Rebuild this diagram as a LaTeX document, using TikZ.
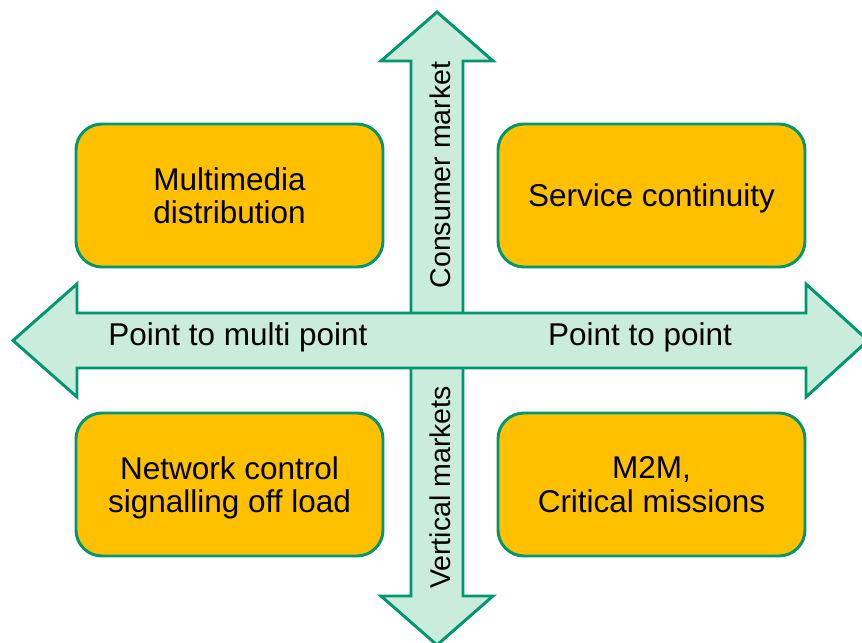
\documentclass[tikz,border=0pt]{standalone}
\usepackage{xcolor}
\usepackage{fontspec}
\setmainfont{Liberation Sans}
\setsansfont{Liberation Sans}
\usepackage{tikz}
\usetikzlibrary{calc}
\definecolor{boxorange}{RGB}{255,192,0}
\definecolor{edgegreen}{RGB}{0,150,112}
\definecolor{arrowmint}{RGB}{202,236,220}
\tikzset{quadrant/.style={draw=edgegreen,fill=boxorange,line width=2.1pt,rounded corners=0.65cm,minimum width=7.675cm,minimum height=3.575cm,align=center,text depth=0pt,font=\sffamily\fontsize{22.4}{23.5}\selectfont}}
\tikzset{bigarrow/.style={draw=edgegreen,fill=arrowmint,line width=2.1pt,line join=miter}}
\tikzset{axislabel/.style={anchor=base,inner sep=0pt,font=\sffamily\fontsize{22.4}{23.5}\selectfont}}

\begin{document}
\begin{tikzpicture}[font=\sffamily]
	\useasboundingbox (0,0) rectangle (21.55,16.075);
	% market axis
	\draw[bigarrow] (10.925,15.775)--(12.325,14.55)--(11.575,14.55)--(11.575,1.175)--(12.325,1.175)--(10.925,-0.05)--(9.525,1.175)--(10.275,1.175)--(10.275,14.55)--(9.525,14.55)--cycle;
	% point axis
	\draw[bigarrow] (0.325,7.5625)--(1.925,8.975)--(1.925,8.25)--(20.15,8.25)--(20.15,8.975)--(21.7,7.5625)--(20.15,6.15)--(20.15,6.875)--(1.925,6.875)--(1.925,6.15)--cycle;
	\node[quadrant] (multimedia) at (5.7375,11.1875) {Multimedia\\distribution};
	\node[quadrant] (continuity) at (16.2875,11.1875) {Service continuity};
	\node[quadrant] (network) at (5.7375,3.9625) {Network control\\signalling off load};
	\node[quadrant] (mission) at (16.2875,3.9625) {M2M,\\Critical missions};
	\node[axislabel] (multipoint) at (5.95,7.425) {Point to multi point};
	\node[axislabel] (pointpoint) at (16.0,7.425) {Point to point};
	\node[axislabel,rotate=90,font=\sffamily\fontsize{20.3}{22}\selectfont] (consumer) at (11.25,11.7) {Consumer market};
	\node[axislabel,rotate=90,font=\sffamily\fontsize{20.3}{22}\selectfont] (vertical) at (11.25,3.8875) {Vertical markets};
\end{tikzpicture}
\end{document}
